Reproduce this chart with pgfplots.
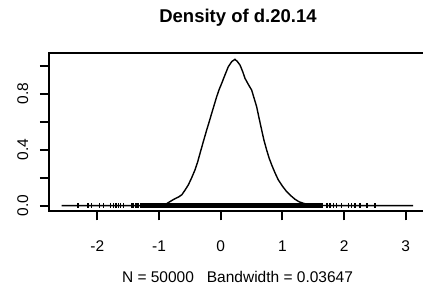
\documentclass[border=0pt]{standalone}
\usepackage{pgfplots}
\pgfplotsset{compat=1.18}
\usepackage{fontspec}
\setmainfont{Liberation Sans}
\begin{document}
\fontsize{15.5pt}{18pt}\selectfont
\begin{tikzpicture}[x=1pt,y=1pt]
\useasboundingbox (0,0) rectangle (423,288);
\clip (0,0) rectangle (423,288);
\begin{axis}[at={(49.3pt,77pt)}, anchor=south west, scale only axis,
  width=377.7pt, height=157.7pt,
  xmin=-2.778, xmax=3.344, ymin=-0.038, ymax=1.089,
  axis line style={line width=1.9pt},
  tick style={line width=1.9pt, black},
  tick align=outside, major tick length=9.5pt,
  xtick={-2,-1,0,1,2,3}, xticklabels={-2,-1,0,1,2,3},
  ytick={0,0.2,0.4,0.6,0.8,1.0}, yticklabels={0.0,,0.4,,0.8,},
  xtick pos=bottom, ytick pos=left,
  xticklabel style={anchor=base, inner sep=0pt},
  xticklabel shift=31.3pt,
  yticklabel style={rotate=90, anchor=south, inner sep=0pt},
  yticklabel shift=11.3pt,
]
\addplot[line width=4.6pt, black] coordinates {(-1.31,0) (1.66,0)};
\addplot[only marks, mark=|, mark size=2.5pt, mark options={line width=1.4pt, black}] coordinates {
(-2.31,0) (-2.15,0) (-2.09,0) (-1.96,0) (-1.90,0) (-1.79,0) (-1.74,0) (-1.70,0)
(-1.66,0) (-1.62,0) (-1.58,0) (-1.44,0) (-1.41,0) (-1.37,0) (-1.34,0)
(1.72,0) (1.77,0) (1.83,0) (1.88,0) (1.96,0) (2.07,0) (2.12,0) (2.18,0) (2.26,0) (2.37,0) (2.50,0)};
\addplot[line width=1.4pt, black] coordinates {
(-2.58,0) (-1.2,0.0) (-1.0,0.002) (-0.9,0.008) (-0.8,0.035) (-0.74,0.05) (-0.68,0.063) (-0.63,0.078)
(-0.58,0.11) (-0.525,0.148) (-0.47,0.2) (-0.417,0.255) (-0.375,0.31) (-0.335,0.374)
(-0.28,0.46) (-0.227,0.541) (-0.186,0.60) (-0.146,0.66) (-0.105,0.72) (-0.065,0.779)
(-0.025,0.83) (0.016,0.874) (0.07,0.935) (0.123,0.993) (0.18,1.03) (0.232,1.046)
(0.27,1.03) (0.313,1.005) (0.355,0.96) (0.394,0.91) (0.45,0.865) (0.502,0.826)
(0.54,0.77) (0.583,0.707) (0.62,0.63) (0.664,0.541) (0.70,0.47) (0.745,0.398)
(0.785,0.34) (0.827,0.291) (0.88,0.235) (0.934,0.184) (1.0,0.14) (1.07,0.1)
(1.14,0.07) (1.204,0.046) (1.27,0.028) (1.34,0.017) (1.45,0.005) (1.6,0.001) (3.12,0)};
\end{axis}
\node[font=\fontsize{18.5pt}{21pt}\selectfont\bfseries, anchor=base, inner sep=0pt] at (238,265.3) {Density of d.20.14};
\node[anchor=base, inner sep=0pt] at (237.5,5.3) {N = 50000\ \ \ Bandwidth = 0.03647};
\end{tikzpicture}
\end{document}
